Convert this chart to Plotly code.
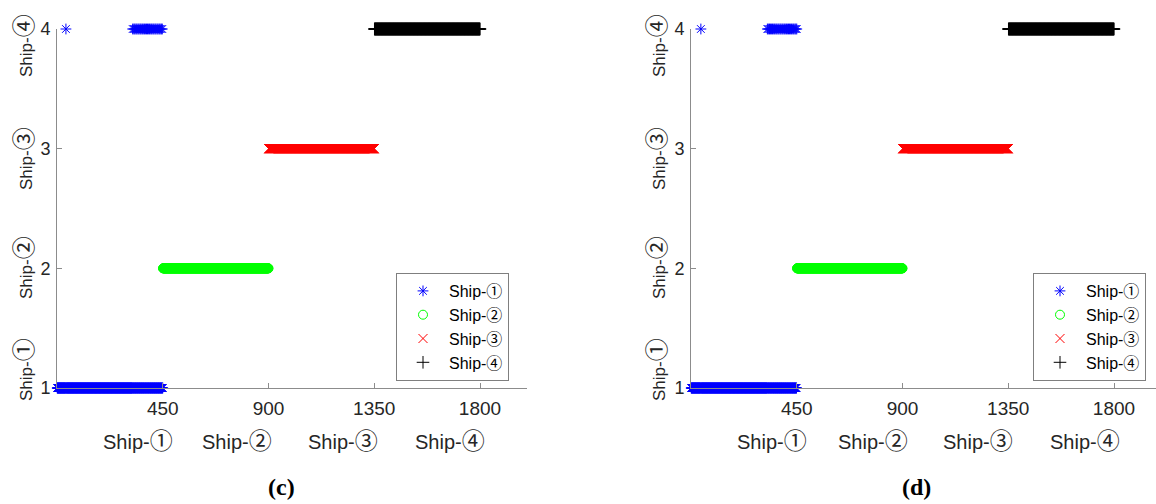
import plotly.graph_objects as go

# ---------------- data ----------------
ship_digits = ["①", "②", "③", "④"]
tick_vals_x = [450, 900, 1350, 1800]
tick_vals_y = [1, 2, 3, 4]
samples_per_ship = 450

# samples of Ship-① (1..450) recognised as Ship-④
ship1_as4_c = [38, 322, 327, 331, 336, 340, 345, 349, 354, 358, 363, 367, 372, 376, 381,
               385, 390, 394, 399, 403, 408, 412, 417, 421, 426, 430, 435, 439, 444, 448]
ship1_as4_d = [42, 325, 329, 334, 338, 343, 347, 352, 356, 361, 365, 370, 374, 379, 383,
               388, 392, 397, 401, 406, 410, 415, 419, 424, 428, 433, 437, 442, 446, 450]

colors = ["#0000ff", "#00ff00", "#ff0000", "#000000"]
symbols = ["asterisk-open", "circle-open", "x-thin-open", "cross-thin-open"]

FONT = "Liberation Sans, Arial, sans-serif"
CJK = "Noto Sans CJK SC"
TXT = "#262626"
AX = "#8c8c8c"


def ship_label(d, digit_size):
    return "Ship-<span style=\"font-family:'%s';font-size:%dpx\">%s</span>" % (CJK, digit_size, d)


W, H = 1156, 504
panels = [
    dict(x0=57, x1=527, xmax=2000, mis=ship1_as4_c, label="<b>(c)</b>", lx=281,
         rot_x=22, xl=[138, 237, 343, 450], leg_right=509),
    dict(x0=691, x1=1156, xmax=(1156 - 691) / 470 * 2000, mis=ship1_as4_d, label="<b>(d)</b>", lx=916,
         rot_x=655, xl=[772, 873, 978, 1085], leg_right=1146),
]
ytop, ybot = 29, 388

fig = go.Figure()
annotations = []
for p_i, p in enumerate(panels):
    xa = "x" if p_i == 0 else "x2"
    ya = "y" if p_i == 0 else "y2"
    for k in range(4):
        start = k * samples_per_ship + 1
        idx = list(range(start, start + samples_per_ship))
        xs, ys = [], []
        for s in idx:
            if k == 0 and s in p["mis"]:
                continue
            xs.append(s)
            ys.append(k + 1)
        if k == 0:
            xs += p["mis"]
            ys += [4] * len(p["mis"])
        fig.add_trace(go.Scatter(
            x=xs, y=ys, mode="markers", name=ship_label(ship_digits[k], 16),
            xaxis=xa, yaxis=ya, cliponaxis=False,
            legend="legend" if p_i == 0 else "legend2",
            marker=dict(symbol=symbols[k], size=9, color=colors[k],
                        line=dict(color=colors[k], width=1)),
        ))

    # rotated y labels
    for k, yc in enumerate([370, 268, 159, 46]):
        annotations.append(dict(
            text=ship_label(ship_digits[k], 23), x=p["rot_x"] / W, y=1 - yc / H, xref="paper", yref="paper",
            showarrow=False, textangle=-90, font=dict(family=FONT, size=17, color=TXT),
            xanchor="center", yanchor="middle"))
    # x category labels
    for k, xc in enumerate(p["xl"]):
        annotations.append(dict(
            text=ship_label(ship_digits[k], 23), x=xc / W, y=1 - 439 / H, xref="paper", yref="paper",
            showarrow=False, font=dict(family=FONT, size=20, color=TXT),
            xanchor="center", yanchor="middle"))
    annotations.append(dict(
        text=p["label"], x=p["lx"] / W, y=1 - 487 / H, xref="paper", yref="paper",
        showarrow=False, font=dict(family="Liberation Serif, Times New Roman, serif", size=24, color="#000"),
        xanchor="center", yanchor="middle"))

axis_common = dict(showgrid=False, zeroline=False, showline=True, linecolor=AX, linewidth=1,
                   ticks="inside", ticklen=5, tickcolor=AX, automargin=False)

legend_common = dict(y=1 - 273 / H, xanchor="right", yanchor="top", bgcolor="white",
                     bordercolor="#7f7f7f", borderwidth=1, itemwidth=42,
                     font=dict(family=FONT, size=16, color="#000"))

fig.update_layout(
    width=W, height=H, margin=dict(l=0, r=0, t=0, b=0, pad=0, autoexpand=False),
    paper_bgcolor="white", plot_bgcolor="white",
    annotations=annotations,
    xaxis=dict(domain=[57 / W, 527 / W], range=[0, 2000], tickvals=tick_vals_x, anchor="y",
               tickfont=dict(family=FONT, size=19, color=TXT), ticklabelstandoff=3, **axis_common),
    yaxis=dict(domain=[1 - ybot / H, 1 - ytop / H], range=[1, 4], tickvals=tick_vals_y, anchor="x",
               tickfont=dict(family=FONT, size=18, color=TXT), ticklabelstandoff=2, **axis_common),
    xaxis2=dict(domain=[691 / W, 1.0], range=[0, panels[1]["xmax"]], tickvals=tick_vals_x, anchor="y2",
                tickfont=dict(family=FONT, size=19, color=TXT), ticklabelstandoff=3, **axis_common),
    yaxis2=dict(domain=[1 - ybot / H, 1 - ytop / H], range=[1, 4], tickvals=tick_vals_y, anchor="x2",
                tickfont=dict(family=FONT, size=18, color=TXT), ticklabelstandoff=2, **axis_common),
    legend=dict(x=panels[0]["leg_right"] / W, **legend_common),
    legend2=dict(x=panels[1]["leg_right"] / W, **legend_common),
    showlegend=True,
)

fig.write_html("out.html")
